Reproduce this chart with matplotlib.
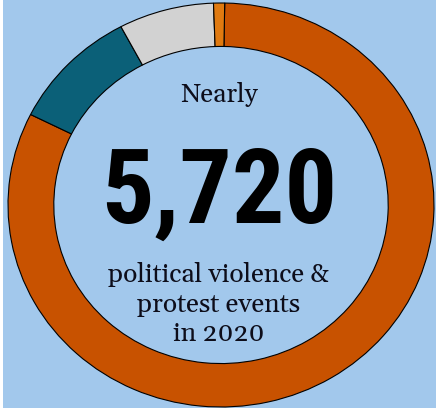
import matplotlib.pyplot as plt

# event counts by type (2020)
categories = ["Protests", "Riots", "Strategic developments", "Other"]
counts = [4697, 562, 413, 48]
colors = ["#C85200", "#0B6078", "#D2D2D2", "#E07A10"]

total_label = "5,720"
top_label = "Nearly"
bottom_lines = ["political violence &", "protest events", "in 2020"]

bg = "#A2C8EC"

fig = plt.figure(figsize=(4.36, 4.08), dpi=100)
fig.patch.set_facecolor("white")
ax = fig.add_axes([3 / 436, 0, 433 / 436, 1])

ax.pie(counts, colors=colors, startangle=89, counterclock=False,
       wedgeprops=dict(width=0.215, edgecolor="black", linewidth=0.8))

# pie() switches the frame off, which also hides the face colour
ax.set_frame_on(True)
ax.set_facecolor(bg)
for s in ax.spines.values():
    s.set_visible(False)
ax.set_xticks([])
ax.set_yticks([])

# ring is a little wider than tall in the original
ax.set_aspect("auto")
ax.set_xlim(-1.0235, 1.0094)
ax.set_ylim(-1.005, 1.0149)

serif = ["Gelasio", "DejaVu Serif"]
ax.text(-0.01, 0.51, top_label, ha="center", va="baseline",
        fontsize=19, family=serif, color="#0d0d1a")
ax.text(-0.01, -0.089, total_label, ha="center", va="baseline",
        fontsize=75, fontweight="bold",
        family=["Roboto Condensed", "DejaVu Sans"], color="black")
for y, line in zip([-0.381, -0.53, -0.673], bottom_lines):
    ax.text(-0.01, y, line, ha="center", va="baseline",
            fontsize=19, family=serif, color="#0d0d1a")

fig.savefig("out.png", dpi=100, facecolor=fig.get_facecolor())
